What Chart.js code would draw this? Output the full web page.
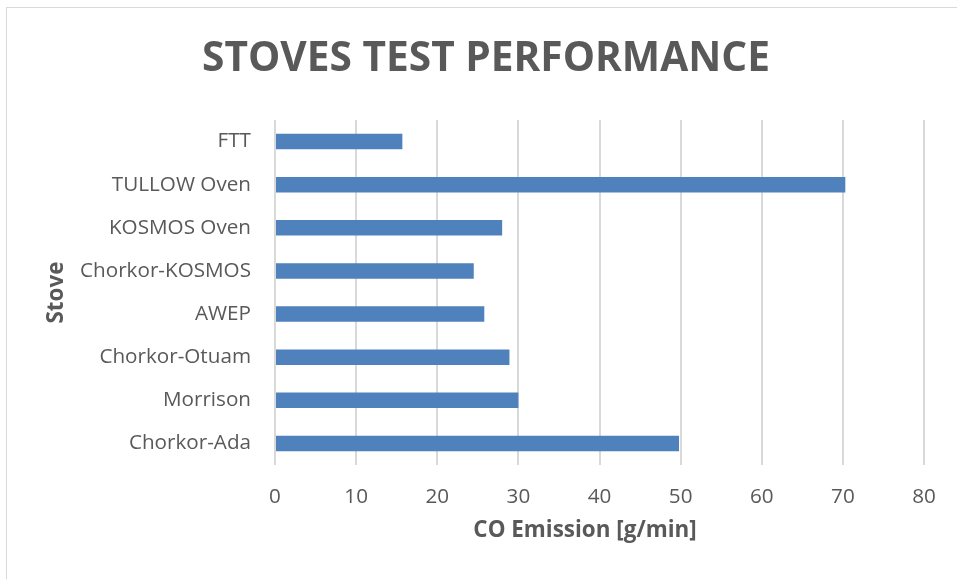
<!DOCTYPE html>
<html>
<head>
<meta charset="utf-8">
<script src="https://cdn.jsdelivr.net/npm/chart.js@4/dist/chart.umd.min.js"></script>
<style>
  html, body { margin:0; padding:0; background:#fff; width:957px; height:579px; overflow:hidden; }
  #frame { position:absolute; left:6px; top:7px; width:1000px; height:1000px; border:1px solid #d9d9d9; box-sizing:border-box; }
  #c { position:absolute; left:0; top:0; }
</style>
</head>
<body>
<div id="frame"></div>
<canvas id="c" width="957" height="579"></canvas>
<script>
// ---- data ----
const chartTitle = 'STOVES TEST PERFORMANCE';
const xAxisTitle = 'CO Emission [g/min]';
const yAxisTitle = 'Stove';
const stoves = ['FTT', 'TULLOW Oven', 'KOSMOS Oven', 'Chorkor-KOSMOS', 'AWEP', 'Chorkor-Otuam', 'Morrison', 'Chorkor-Ada'];
const coEmission = [15.7, 70.3, 28.0, 24.5, 25.8, 28.9, 30.0, 49.8];
const xTickValues = [0, 10, 20, 30, 40, 50, 60, 70, 80];

// ---- style helpers ----
const FAMILY = '"Open Sans", "Liberation Sans", sans-serif';
const TEXT = '#595959';
const mctx = document.createElement('canvas').getContext('2d');
function fitSize(text, weight, target) {
  mctx.font = weight + ' 100px ' + FAMILY;
  return 100 * target / mctx.measureText(text).width;
}
const titleSize = fitSize(chartTitle, 'bold', 568);
const tickSize = fitSize('Chorkor-KOSMOS', 'normal', 171);
const axisTitleSize = fitSize(yAxisTitle, 'bold', 62);
const LH = 1.2;

const W = 957, H = 579;
const plotLeft = 275, plotRight = 924, plotTop = 120, plotBottom = 465;
const padLeft = 48;

const titleTopPad = 59 - titleSize * LH / 2;
const titleBottomPad = plotTop - titleTopPad - titleSize * LH;
const xTickPad = 497 - plotBottom - tickSize * LH / 2;
const yTitlePadTop = 57 - padLeft - axisTitleSize * LH / 2;
const xTitlePos = { x: 585, y: 531 };

const xTitlePlugin = {
  id: 'xTitle',
  afterDraw(chart) {
    const ctx = chart.ctx;
    ctx.save();
    ctx.fillStyle = TEXT;
    ctx.font = 'bold ' + axisTitleSize + 'px ' + FAMILY;
    ctx.textAlign = 'center';
    ctx.textBaseline = 'middle';
    ctx.fillText(xAxisTitle, xTitlePos.x, xTitlePos.y);
    ctx.restore();
  }
};

new Chart(document.getElementById('c'), {
  type: 'bar',
  data: {
    labels: stoves,
    datasets: [{
      label: xAxisTitle,
      data: coEmission,
      backgroundColor: '#4f81bd',
      borderWidth: 0,
      barPercentage: 0.36,
      categoryPercentage: 1.0
    }]
  },
  plugins: [xTitlePlugin],
  options: {
    indexAxis: 'y',
    responsive: false,
    animation: false,
    devicePixelRatio: 1,
    layout: { padding: { left: padLeft, right: W - plotRight, top: 0, bottom: 0 } },
    plugins: {
      legend: { display: false },
      tooltip: { enabled: false },
      title: {
        display: true,
        text: chartTitle,
        color: TEXT,
        font: { family: FAMILY, size: titleSize, weight: 'bold', lineHeight: LH },
        padding: { top: titleTopPad, bottom: titleBottomPad }
      }
    },
    scales: {
      x: {
        type: 'linear',
        min: xTickValues[0],
        max: xTickValues[xTickValues.length - 1],
        afterBuildTicks: (s) => { s.ticks = xTickValues.map(v => ({ value: v })); },
        afterFit: (s) => { s.height = H - plotBottom; },
        grid: { color: '#d9d9d9', lineWidth: 2, drawTicks: false },
        border: { display: false },
        ticks: {
          color: TEXT,
          padding: xTickPad,
          font: { family: FAMILY, size: tickSize, lineHeight: LH }
        },
        title: { display: false, text: xAxisTitle }
      },
      y: {
        afterFit: (s) => { s.width = plotLeft - padLeft; },
        grid: { display: false, drawTicks: false },
        border: { display: false },
        ticks: {
          color: TEXT,
          padding: 24,
          font: { family: FAMILY, size: tickSize, lineHeight: LH }
        },
        title: {
          display: true,
          text: yAxisTitle,
          color: TEXT,
          font: { family: FAMILY, size: axisTitleSize, weight: 'bold', lineHeight: LH },
          padding: { top: yTitlePadTop, bottom: 0 }
        }
      }
    }
  }
});
</script>
</body>
</html>
